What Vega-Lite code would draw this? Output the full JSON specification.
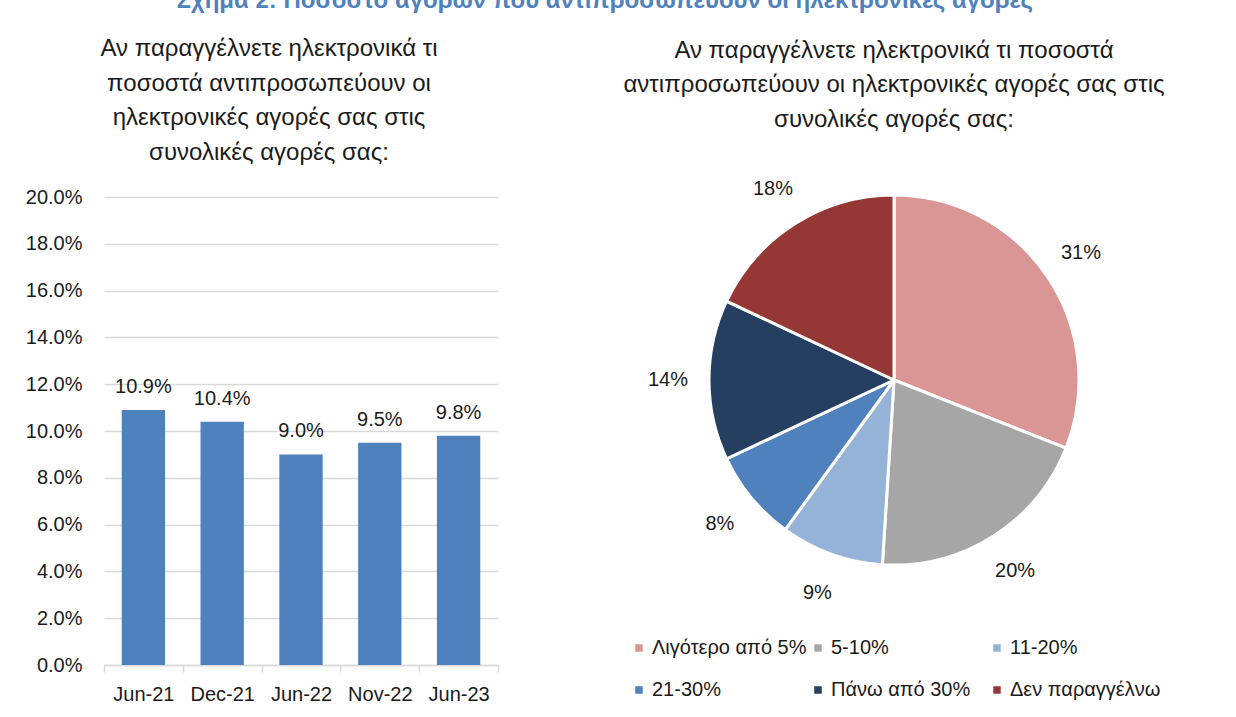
{
  "$schema": "https://vega.github.io/schema/vega-lite/v6.json",
  "padding": {"left": 25, "top": -12, "right": 5, "bottom": 0},
  "background": "white",
  "title": {
    "text": "Σχήμα 2: Ποσοστό αγορών που αντιπροσωπεύουν οι ηλεκτρονικές αγορές",
    "fontSize": 24,
    "font": "Liberation Sans",
    "fontWeight": "bold",
    "color": "#4f81bd",
    "anchor": "middle",
    "offset": 24
  },
  "config": {"font": "Liberation Sans", "view": {"stroke": null}},
  "resolve": {"legend": {"color": "independent"}, "scale": {"color": "independent"}},
  "spacing": 105,
  "hconcat": [
    {
      "width": 394,
      "height": 468,
      "title": {
        "text": ["Αν παραγγέλνετε ηλεκτρονικά τι", "ποσοστά αντιπροσωπεύουν οι", "ηλεκτρονικές αγορές σας στις", "συνολικές αγορές σας:"],
        "fontSize": 24,
        "fontWeight": "normal",
        "lineHeight": 34.7,
        "color": "#1a1a1a",
        "offset": 22,
        "dx": -32,
        "anchor": "middle"
      },
      "data": {
        "values": [
          {"period": "Jun-21", "share": 0.109},
          {"period": "Dec-21", "share": 0.104},
          {"period": "Jun-22", "share": 0.090},
          {"period": "Nov-22", "share": 0.095},
          {"period": "Jun-23", "share": 0.098}
        ]
      },
      "encoding": {
        "x": {
          "field": "period",
          "type": "nominal",
          "sort": null,
          "scale": {"paddingInner": 0, "paddingOuter": 0},
          "axis": {
            "title": null,
            "labelAngle": 0,
            "domainColor": "#d9d9d9",
            "domainWidth": 1.5,
            "tickColor": "#d9d9d9",
            "tickWidth": 1.5,
            "tickSize": 7,
            "tickBand": "extent",
            "labelFontSize": 20,
            "labelPadding": 12,
            "labelColor": "#1a1a1a",
            "grid": false
          }
        },
        "y": {
          "field": "share",
          "type": "quantitative",
          "scale": {"domain": [0, 0.2]},
          "axis": {
            "title": null,
            "format": ".1%",
            "values": [0, 0.02, 0.04, 0.06, 0.08, 0.1, 0.12, 0.14, 0.16, 0.18, 0.2],
            "domain": false,
            "ticks": false,
            "grid": true,
            "gridColor": "#d9d9d9",
            "gridWidth": 1.5,
            "labelFontSize": 20,
            "labelColor": "#1a1a1a",
            "labelPadding": 22
          }
        }
      },
      "layer": [
        {"mark": {"type": "bar", "color": "#4f81bd", "width": {"band": 0.55}}},
        {
          "mark": {"type": "text", "baseline": "bottom", "dy": -13, "fontSize": 20, "color": "#1a1a1a"},
          "encoding": {"text": {"field": "share", "type": "quantitative", "format": ".1%"}}
        }
      ]
    },
    {
      "width": 580,
      "height": 366,
      "title": {
        "text": ["Αν παραγγέλνετε ηλεκτρονικά τι ποσοστά", "αντιπροσωπεύουν οι ηλεκτρονικές αγορές σας στις", "συνολικές αγορές σας:"],
        "fontSize": 24,
        "fontWeight": "normal",
        "lineHeight": 34.7,
        "color": "#1a1a1a",
        "offset": 47,
        "anchor": "middle"
      },
      "data": {
        "values": [
          {"category": "Λιγότερο από 5%", "share": 0.31, "order": 1},
          {"category": "5-10%", "share": 0.20, "order": 2},
          {"category": "11-20%", "share": 0.09, "order": 3},
          {"category": "21-30%", "share": 0.08, "order": 4},
          {"category": "Πάνω από 30%", "share": 0.14, "order": 5},
          {"category": "Δεν παραγγέλνω", "share": 0.18, "order": 6}
        ]
      },
      "encoding": {
        "theta": {"field": "share", "type": "quantitative", "stack": true},
        "order": {"field": "order", "type": "quantitative"}
      },
      "layer": [
        {
          "mark": {"type": "arc", "outerRadius": 185, "stroke": "white", "strokeWidth": 3},
          "encoding": {
            "color": {
              "field": "category",
              "type": "nominal",
              "sort": ["Λιγότερο από 5%", "5-10%", "11-20%", "21-30%", "Πάνω από 30%", "Δεν παραγγέλνω"],
              "scale": {
                "domain": ["Λιγότερο από 5%", "5-10%", "11-20%", "21-30%", "Πάνω από 30%", "Δεν παραγγέλνω"],
                "range": ["#d99694", "#a6a6a6", "#95b3d7", "#4f81bd", "#243f60", "#953735"]
              },
              "legend": {
                "orient": "none",
                "legendX": 25,
                "legendY": 441,
                "columns": 3,
                "direction": "horizontal",
                "title": null,
                "symbolType": "square",
                "symbolSize": 56,
                "symbolStrokeWidth": 0,
                "labelFontSize": 20,
                "labelColor": "#1a1a1a",
                "labelOffset": 3,
                "labelLimit": 300,
                "columnPadding": 1,
                "rowPadding": 22,
                "gridAlign": "all",
                "padding": 0
              }
            }
          }
        },
        {
          "mark": {"type": "text", "radius": 226, "fontSize": 20, "color": "#1a1a1a"},
          "encoding": {
            "detail": {"field": "category", "type": "nominal"},
            "text": {"field": "share", "type": "quantitative", "format": ".0%"}
          }
        }
      ]
    }
  ]
}
